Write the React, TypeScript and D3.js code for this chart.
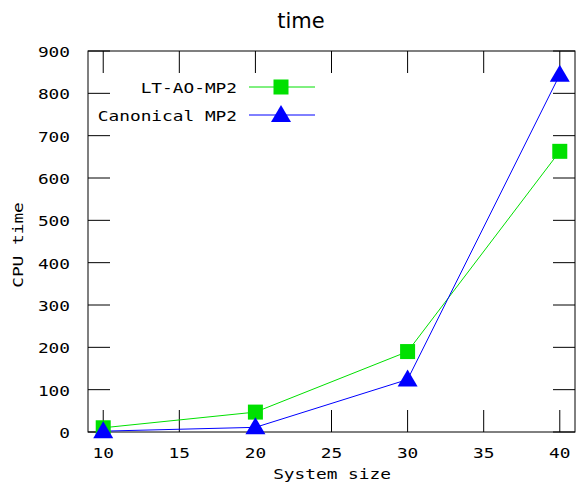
import React from "react";
import * as d3 from "d3";

// values
const systemSize = [10, 20, 30, 40];
const ltAoMp2 = [10, 47, 190, 663];
const canonicalMp2 = [2, 11, 124, 844];
const xTicks = [10, 15, 20, 25, 30, 35, 40];
const yTicks = [0, 100, 200, 300, 400, 500, 600, 700, 800, 900];
const seriesNames = ["LT-AO-MP2", "Canonical MP2"];

const W = 576;
const H = 486;
const left = 88;
const right = 575;
const top = 51;
const bottom = 432;
const GREEN = "#00e000";
const BLUE = "#0000ff";
const mono = "'DejaVu Sans Mono', monospace";

// gnuplot's bitmap font is wide and short: stretch a mono font sideways
const Label = ({ x, y, anchor, rotate = 0, children }: { x: number; y: number; anchor: string; rotate?: number; children: React.ReactNode }) => (
  <text
    transform={`translate(${x},${y}) rotate(${rotate}) scale(1.27,1)`}
    textAnchor={anchor}
    fontFamily={mono}
    fontSize={14}
  >
    {children}
  </text>
);

export default function App() {
  const x = d3.scaleLinear().domain([9, 41]).range([left, right]);
  const y = d3.scaleLinear().domain([0, 900]).range([bottom, top]);
  const line = d3
    .line<number>()
    .x((_, i) => x(systemSize[i]))
    .y((d) => y(d));

  const tickLen = 22;

  const square = (cx: number, cy: number, k: string) => (
    <rect key={k} x={cx - 7.5} y={cy - 7.5} width={15} height={15} fill={GREEN} />
  );
  const triangle = (cx: number, cy: number, k: string) => (
    <path key={k} d={`M${cx},${cy - 10}L${cx + 10},${cy + 7}L${cx - 10},${cy + 7}Z`} fill={BLUE} />
  );

  return (
    <svg
      width={W}
      height={H}
      style={{ position: "absolute", left: 0, top: 0, background: "#fff" }}
    >
      <text x={301} y={28} textAnchor="middle" fontFamily="'DejaVu Sans', sans-serif" fontSize={21}>
        time
      </text>

      {/* ticks, mirrored on all sides */}
      {xTicks.map((t) => (
        <g key={"xt" + t} stroke="#000" strokeWidth={1}>
          <line x1={x(t)} x2={x(t)} y1={bottom} y2={bottom - tickLen} />
          <line x1={x(t)} x2={x(t)} y1={top} y2={top + tickLen} />
        </g>
      ))}
      {yTicks.map((t) => (
        <g key={"yt" + t} stroke="#000" strokeWidth={1}>
          <line x1={left} x2={left + tickLen} y1={y(t)} y2={y(t)} />
          <line x1={right} x2={right - tickLen} y1={y(t)} y2={y(t)} />
        </g>
      ))}
      <rect x={left} y={top} width={right - left} height={bottom - top} fill="none" stroke="#000" strokeWidth={1} />

      {/* tick labels */}
      {xTicks.map((t) => (
        <Label key={"xl" + t} x={x(t)} y={458} anchor="middle">
          {t}
        </Label>
      ))}
      {yTicks.map((t) => (
        <Label key={"yl" + t} x={70} y={y(t) + 6} anchor="end">
          {t}
        </Label>
      ))}

      <Label x={332} y={479} anchor="middle">
        System size
      </Label>
      <Label x={23} y={245} anchor="middle" rotate={-90}>
        CPU time
      </Label>

      {/* series */}
      <path d={line(ltAoMp2) || ""} fill="none" stroke={GREEN} strokeWidth={1} />
      <path d={line(canonicalMp2) || ""} fill="none" stroke={BLUE} strokeWidth={1} />
      {ltAoMp2.map((v, i) => square(x(systemSize[i]), y(v), "s" + i))}
      {canonicalMp2.map((v, i) => triangle(x(systemSize[i]), y(v), "t" + i))}

      {/* legend */}
      {seriesNames.map((name, i) => {
        const ly = 87 + i * 28;
        return (
          <g key={name}>
            <Label x={237} y={ly + 6} anchor="end">
              {name}
            </Label>
            <line x1={249} x2={315} y1={ly} y2={ly} stroke={i === 0 ? GREEN : BLUE} strokeWidth={1} />
            {i === 0 ? square(281, ly, "ls") : triangle(281, ly, "lt")}
          </g>
        );
      })}
    </svg>
  );
}
